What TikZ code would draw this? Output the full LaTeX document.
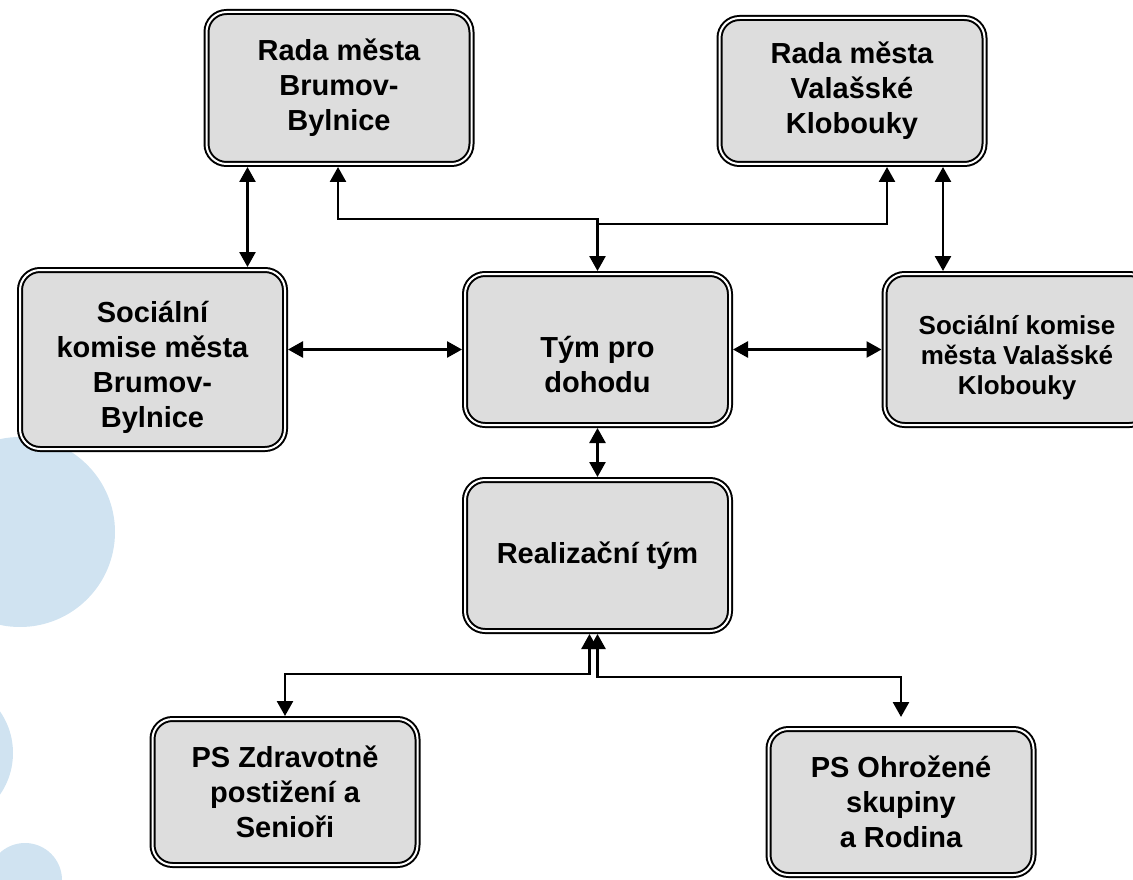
\documentclass[tikz,border=0pt]{standalone}
\usepackage{fontspec}
\setmainfont{Liberation Sans}
\usetikzlibrary{arrows.meta}

\definecolor{boxgray}{RGB}{221,221,221}
\definecolor{bgblue}{RGB}{208,227,241}

\tikzset{every picture/.style={line width=2.6pt}}
\tikzset{
  box/.style={draw, double, line width=2pt, double distance=2pt,
              fill=boxgray, rounded corners=20pt, align=center,
              minimum width=265pt, minimum height=#1, inner sep=0pt,
              outer sep=3pt, font=\bfseries\fontsize{29}{35}\selectfont},
  box/.default={151pt}, % inner height of a standard box
  link/.style={{Triangle[length=15pt,width=16pt]}-{Triangle[length=15pt,width=16pt]}},
  tolink/.style={-{Triangle[length=15pt,width=16pt]}},
}

\begin{document}
\begin{tikzpicture}[x=1pt, y=-1pt]
  \useasboundingbox (0,0) rectangle (1133,880);
  \clip (0,0) rectangle (1133,880);
  % background circles
  \fill[bgblue] (20,532) circle[radius=95pt];
  \fill[bgblue] (-60,753) circle[radius=73pt];
  \fill[bgblue] (25,880) circle[radius=37pt];
  % boxes
  \node[box=152pt] (rbb) at (339,88) {Rada města\\Brumov-\\Bylnice};
  \node[box=146pt] (rvk) at (852,91) {Rada města\\Valašské\\Klobouky};
  \node[box=179pt] (sbb) at (152.5,359.5) {\rule{0pt}{38pt}Sociální\\komise města\\Brumov-\\Bylnice};
  \node[box] (tym) at (597.5,349.5) {\rule{0pt}{52pt}Tým pro\\dohodu};
  \node[box, font=\bfseries\fontsize{26}{30}\selectfont] (svk) at (1017,349.5)
       {\rule{0pt}{36pt}Sociální komise\\města Valašské\\Klobouky};
  \node[box] (real) at (597.5,555.5) {Realizační tým};
  \node[box=146pt] (pszs) at (285,792) {PS Zdravotně\\postižení a\\Senioři};
  \node[box=146pt] (psos) at (901,802) {PS Ohrožené\\skupiny\\a Rodina};
  % connections
  \draw[link] ([xshift=95pt]sbb.north) -- ([xshift=-91.5pt]rbb.south);
  \draw[link] ([xshift=-74pt]svk.north) -- ([xshift=91pt]rvk.south);
  \draw[link] (tym.north) -- ++(0,-52) -| ([xshift=-1pt]rbb.south);
  \draw[tolink] ([yshift=47pt]tym.north) -| ([xshift=35pt]rvk.south);
  \draw[link] (tym.west) -- (tym.west -| sbb.east);
  \draw[link] (tym.east) -- (tym.east -| svk.west);
  \draw[link] (tym.south) -- (real.north);
  \draw[link] ([xshift=-8pt]real.south) -- ++(0,40) -| (pszs.north);
  \draw[link] (real.south) -- ++(0,43) -| ([yshift=9pt]psos.north);
\end{tikzpicture}
\end{document}
